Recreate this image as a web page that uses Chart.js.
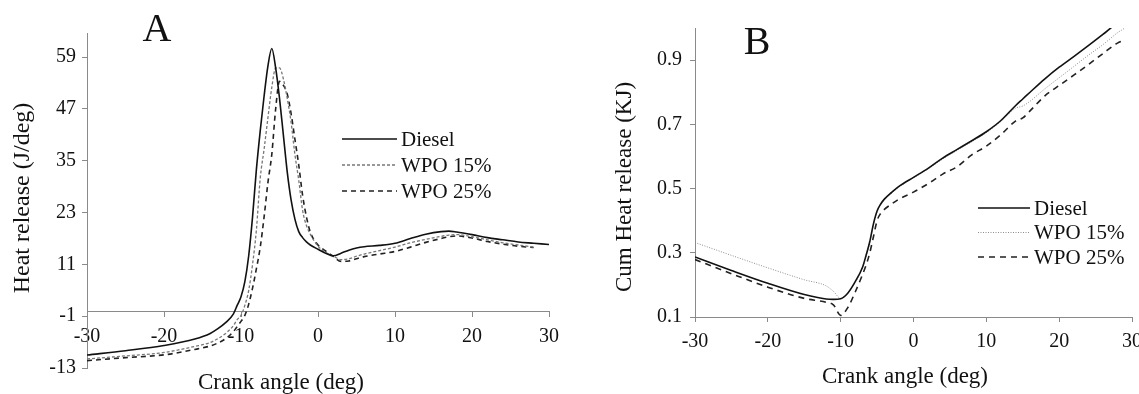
<!DOCTYPE html>
<html>
<head>
<meta charset="utf-8">
<script src="https://cdn.jsdelivr.net/npm/chart.js@4.4.0/dist/chart.umd.min.js"></script>
<style>
  html, body { margin: 0; padding: 0; background: #fff; overflow: hidden; }
  .box { position: absolute; top: 0; height: 394px; }
  #boxA { left: 0; width: 570px; }
  #boxB { left: 570px; width: 600px; }
</style>
</head>
<body>
<div class="box" id="boxA"><canvas id="chartA" width="570" height="394"></canvas></div>
<div class="box" id="boxB"><canvas id="chartB" width="600" height="394"></canvas></div>
<script>
// series names (legend)
const seriesNames = ['Diesel', 'WPO 15%', 'WPO 25%'];
const angleTicks = [-30, -20, -10, 0, 10, 20, 30];

// panel A - heat release rate (J/deg)
const anglesA = [-30, -25, -20, -16, -14, -13, -12, -11, -10.5, -10, -9.5, -9, -8.5, -8, -7.5, -7, -6.5, -6, -5.5, -5,
  -4.5, -4, -3.5, -3, -2.5, -2, -1.5, -1, 0, 1, 2, 3, 4, 5, 6, 8, 10, 12, 14, 16, 17, 18, 20, 22, 24, 26, 28, 30];
const dieselA = [-10.0, -9.0, -7.8, -6.3, -5.0, -3.9, -2.5, -0.5, 1.5, 3.5, 7.0, 13.0, 22.0, 33.0, 42.0, 50.0, 57.0, 61.0, 56.5, 49.5,
  41.0, 32.5, 26.0, 21.5, 18.6, 17.2, 16.2, 15.5, 14.5, 13.6, 13.0, 13.6, 14.3, 14.8, 15.1, 15.4, 15.9, 17.0, 18.0, 18.6, 18.7, 18.5, 17.9, 17.2, 16.7, 16.2, 15.9, 15.6];
const wpo15A = [-10.9, -10.2, -9.4, -8.0, -7.1, -6.2, -5.0, -3.2, -1.8, -0.8, 1.5, 5.0, 11.0, 19.0, 31.0, 37.7, 45.0, 52.0, 56.5, 56.5,
  54.0, 49.5, 44.0, 36.5, 30.5, 23.5, 20.0, 18.0, 15.2, 13.8, 12.9, 12.1, 12.3, 12.9, 13.4, 14.2, 15.0, 16.0, 16.8, 17.5, 17.8, 17.9, 17.4, 16.7, 16.0, 15.5, 15.0, null];
const wpo25A = [-11.3, -10.6, -9.95, -8.7, -7.9, -7.2, -6.2, -4.6, -3.4, -2.2, -0.8, 1.8, 5.5, 10.0, 15.0, 22.0, 30.0, 36.5, 47.0, 53.4,
  52.5, 50.5, 46.0, 40.0, 34.0, 27.0, 22.0, 18.5, 15.5, 14.1, 12.8, 11.7, 11.8, 12.3, 12.8, 13.4, 14.0, 15.0, 16.1, 17.0, 17.4, 17.6, 17.1, 16.3, 15.7, 15.2, 14.9, null];
const ticksA = [-13, -1, 11, 23, 35, 47, 59];

// panel B - cumulative heat release (KJ)
const anglesB = [-30, -25, -20, -15, -12, -11, -10, -9, -8, -7, -6.5, -6, -5.5, -5, -4.5, -4, -3, -2, 0, 2,
  4, 6, 8, 10, 12, 14, 15, 16, 18, 20, 22, 24, 26, 28, 29, 30];
const dieselB = [0.287, 0.245, 0.205, 0.170, 0.156, 0.155, 0.157, 0.175, 0.21, 0.255, 0.293, 0.335, 0.39, 0.43, 0.452, 0.467, 0.488, 0.507, 0.535, 0.563,
  0.595, 0.622, 0.649, 0.677, 0.712, 0.758, 0.779, 0.80, 0.841, 0.878, 0.911, 0.945, 0.98, 1.017, 1.035, 1.053];
const wpo15B = [0.332, 0.292, 0.253, 0.216, 0.197, 0.18, 0.158, 0.175, 0.208, 0.253, 0.29, 0.333, 0.387, 0.428, 0.45, 0.465, 0.486, 0.505, 0.533, 0.561,
  0.592, 0.619, 0.646, 0.674, 0.709, 0.75, 0.757, 0.772, 0.81, 0.845, 0.88, 0.915, 0.948, 0.985, 1.0, 1.02];
const wpo25B = [0.279, 0.235, 0.193, 0.158, 0.146, 0.138, 0.105, 0.13, 0.178, 0.232, 0.262, 0.30, 0.35, 0.40, 0.423, 0.435, 0.452, 0.467, 0.489, 0.515,
  0.545, 0.568, 0.605, 0.632, 0.668, 0.71, 0.72, 0.742, 0.788, 0.821, 0.853, 0.886, 0.92, 0.953, 0.962, null];
const ticksB = [0.1, 0.3, 0.5, 0.7, 0.9];

const SERIF = "'Liberation Serif', 'Times New Roman', serif";
const AXIS = '#8a8a8a';

// draws legend lines + free text (panel letter, axis titles)
const overlay = {
  id: 'overlay',
  afterDraw(chart, args, opts) {
    const ctx = chart.ctx;
    ctx.save();
    const lg = opts.legend;
    chart.data.datasets.forEach((ds, i) => {
      const y = lg.y + i * lg.gap;
      ctx.beginPath();
      ctx.strokeStyle = ds.borderColor;
      ctx.lineWidth = ds.borderWidth;
      ctx.setLineDash(ds.borderDash || []);
      ctx.moveTo(lg.x, y);
      ctx.lineTo(lg.x + lg.len, y);
      ctx.stroke();
      ctx.setLineDash([]);
      ctx.fillStyle = '#111';
      ctx.font = lg.font;
      ctx.textAlign = 'left';
      ctx.textBaseline = 'middle';
      ctx.fillText(ds.label, lg.x + lg.len + 4, y + 1);
    });
    opts.texts.forEach(t => {
      ctx.save();
      ctx.translate(t.x, t.y);
      if (t.rot) ctx.rotate(t.rot);
      ctx.font = t.font;
      ctx.fillStyle = '#111';
      ctx.textAlign = 'center';
      ctx.textBaseline = 'middle';
      ctx.fillText(t.text, 0, 0);
      ctx.restore();
    });
    ctx.restore();
  }
};

function makeSets(angles, values, styles) {
  return values.map((vals, i) => ({
    label: seriesNames[i],
    data: angles.map((a, j) => ({x: a, y: vals[j]})),
    borderColor: styles[i].color,
    borderWidth: styles[i].width,
    borderDash: styles[i].dash,
    pointRadius: 0,
    cubicInterpolationMode: 'monotone',
    spanGaps: false
  }));
}

Chart.defaults.font.family = SERIF;
Chart.defaults.color = '#111';

const chartA = new Chart(document.getElementById('chartA'), {
  type: 'line',
  data: {
    datasets: makeSets(anglesA, [dieselA, wpo15A, wpo25A], [
      {color: '#111', width: 1.6, dash: []},
      {color: '#777', width: 1.3, dash: [3, 2]},
      {color: '#222', width: 1.6, dash: [5, 4]}
    ])
  },
  options: {
    responsive: false,
    animation: false,
    layout: {padding: {top: 33, right: 21, bottom: 26, left: 0}},
    scales: {
      x: {
        type: 'linear', min: -30, max: 30, position: {y: 0},
        afterBuildTicks: s => { s.ticks = angleTicks.map(v => ({value: v})); },
        grid: {drawOnChartArea: false, drawTicks: true, tickLength: 5, color: AXIS},
        border: {display: true, color: AXIS, width: 1},
        ticks: {font: {size: 20}, padding: 8, maxRotation: 0, color: '#111'}
      },
      y: {
        type: 'linear', min: -13, max: 64.6,
        afterBuildTicks: s => { s.ticks = ticksA.map(v => ({value: v})); },
        afterFit: s => { s.width = 87; },
        grid: {drawOnChartArea: false, drawTicks: true, tickLength: 5, color: AXIS},
        border: {display: true, color: AXIS, width: 1},
        ticks: {font: {size: 20}, padding: 6, color: '#111'}
      }
    },
    plugins: {
      legend: {display: false},
      tooltip: {enabled: false},
      overlay: {
        legend: {x: 342, y: 139, gap: 26, len: 55, font: '21px ' + SERIF},
        texts: [
          {text: 'A', x: 157, y: 30, font: '40px ' + SERIF},
          {text: 'Crank angle (deg)', x: 281, y: 383, font: '23px ' + SERIF},
          {text: 'Heat release (J/deg)', x: 23, y: 198, rot: -Math.PI / 2, font: '24px ' + SERIF}
        ]
      }
    }
  },
  plugins: [overlay]
});

const chartB = new Chart(document.getElementById('chartB'), {
  type: 'line',
  data: {
    datasets: makeSets(anglesB, [dieselB, wpo15B, wpo25B], [
      {color: '#111', width: 1.6, dash: []},
      {color: '#8c8c8c', width: 1, dash: [1, 1.5]},
      {color: '#222', width: 1.6, dash: [6, 5]}
    ])
  },
  options: {
    responsive: false,
    animation: false,
    layout: {padding: {top: 28, right: 38, bottom: 0, left: 0}},
    scales: {
      x: {
        type: 'linear', min: -30, max: 30, position: 'bottom',
        afterBuildTicks: s => { s.ticks = angleTicks.map(v => ({value: v})); },
        afterFit: s => { s.height = 77; },
        grid: {drawOnChartArea: false, drawTicks: true, tickLength: 5, color: AXIS},
        border: {display: true, color: AXIS, width: 1},
        ticks: {font: {size: 20}, padding: 8, maxRotation: 0, color: '#111'}
      },
      y: {
        type: 'linear', min: 0.1, max: 1.0,
        afterBuildTicks: s => { s.ticks = ticksB.map(v => ({value: v})); },
        afterFit: s => { s.width = 125; },
        grid: {drawOnChartArea: false, drawTicks: true, tickLength: 5, color: AXIS},
        border: {display: true, color: AXIS, width: 1},
        ticks: {font: {size: 20}, padding: 8, color: '#111'}
      }
    },
    plugins: {
      legend: {display: false},
      tooltip: {enabled: false},
      overlay: {
        legend: {x: 408, y: 208, gap: 24.5, len: 52, font: '21px ' + SERIF},
        texts: [
          {text: 'B', x: 187, y: 43, font: '40px ' + SERIF},
          {text: 'Crank angle (deg)', x: 335, y: 377, font: '23px ' + SERIF},
          {text: 'Cum Heat release (KJ)', x: 55, y: 187, rot: -Math.PI / 2, font: '23px ' + SERIF}
        ]
      }
    }
  },
  plugins: [overlay]
});
</script>
</body>
</html>
